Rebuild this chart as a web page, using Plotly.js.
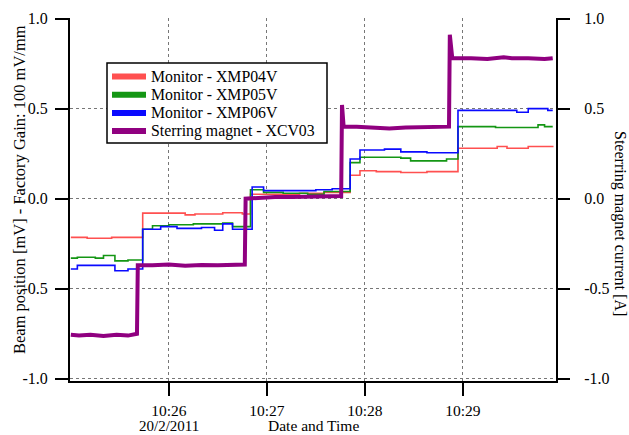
<!DOCTYPE html>
<html><head><meta charset="utf-8">
<script src="https://cdn.plot.ly/plotly-3.0.1.min.js"></script>
<style>body{margin:0;background:#fff}#c{width:629px;height:435px}</style>
</head><body><div id="c"></div>
<script>
const DAY = "2011-02-20 ";
const names = ["Monitor - XMP04V", "Monitor - XMP05V", "Monitor - XMP06V", "Sterring magnet - XCV03"];
const colors = ["#ff5050", "#149614", "#0a0aff", "#900080"];

const redT = ["10:25:00","10:25:10","10:25:25","10:25:44","10:26:10","10:26:16","10:26:33","10:26:45","10:26:50","10:27:20","10:27:35","10:27:51","10:27:57","10:28:07","10:28:22","10:28:38","10:28:57","10:29:21","10:29:27","10:29:40","10:29:55"];
const redV = [-0.215,-0.22,-0.215,-0.08,-0.09,-0.085,-0.078,-0.085,0.025,0.03,0.035,0.13,0.155,0.15,0.145,0.15,0.28,0.29,0.28,0.29,0.285];

const greenT = ["10:25:00","10:25:04","10:25:15","10:25:20","10:25:27","10:25:35","10:25:44","10:25:50","10:26:00","10:26:15","10:26:33","10:26:39","10:26:50","10:26:58","10:27:10","10:27:25","10:27:35","10:27:51","10:27:57","10:28:22","10:28:28","10:28:50","10:28:57","10:29:20","10:29:46","10:29:50","10:29:55"];
const greenV = [-0.33,-0.325,-0.33,-0.315,-0.345,-0.34,-0.17,-0.15,-0.145,-0.14,-0.135,-0.155,0.05,0.035,0.03,0.025,0.04,0.2,0.23,0.225,0.21,0.22,0.4,0.395,0.41,0.4,0.4];

const blueT = ["10:25:00","10:25:04","10:25:27","10:25:35","10:25:44","10:25:55","10:26:05","10:26:20","10:26:28","10:26:33","10:26:39","10:26:51","10:26:58","10:27:30","10:27:40","10:27:51","10:27:57","10:28:12","10:28:22","10:28:38","10:28:57","10:29:33","10:29:40","10:29:52","10:29:55"];
const blueV = [-0.39,-0.37,-0.4,-0.39,-0.17,-0.155,-0.165,-0.16,-0.175,-0.14,-0.17,0.065,0.045,0.05,0.055,0.22,0.27,0.275,0.26,0.255,0.49,0.48,0.5,0.49,0.49];

const magT = ["10:25:00","10:25:05","10:25:12","10:25:20","10:25:28","10:25:35","10:25:40.5","10:25:41","10:25:50","10:26:00","10:26:10","10:26:20","10:26:30","10:26:40","10:26:46.5","10:26:47","10:26:55","10:27:05","10:27:15","10:27:25","10:27:35","10:27:45.5","10:27:46","10:27:47","10:27:55","10:28:05","10:28:15","10:28:25","10:28:35","10:28:45","10:28:51.5","10:28:52","10:28:53.5","10:29:05","10:29:15","10:29:25","10:29:30","10:29:40","10:29:50","10:29:55"];
const magV = [-0.755,-0.76,-0.755,-0.762,-0.755,-0.76,-0.75,-0.37,-0.37,-0.365,-0.372,-0.368,-0.37,-0.365,-0.365,0.0,0.005,0.01,0.01,0.012,0.01,0.015,0.52,0.4,0.4,0.395,0.39,0.395,0.395,0.4,0.4,0.91,0.78,0.78,0.775,0.785,0.78,0.78,0.775,0.78];

const xTickVals = ["10:26:00","10:27:00","10:28:00","10:29:00"];
const xTickText = ["10:26","10:27","10:28","10:29"];
const dateLabel = "20/2/2011";
const yTicks = [-1,-0.5,0,0.5,1];
const yTickText = ["-1.0","-0.5","0.0","0.5","1.0"];
const xTitle = "Date and Time";
const yTitle = "Beam position [mV] - Factory Gain: 100 mV/mm";
const y2Title = "Steerring magnet current [A]";

const full = a => a.map(t => DAY + t);
const serif = "Liberation Serif, Times New Roman, serif";
const FS = 16;

// plot area in pixels
const L = 70, R = 556, T = 18, B = 381;
const px = v => (v - L) / (R - L);
const py = v => (B - v) / (B - T);

const series = [[redT,redV],[greenT,greenV],[blueT,blueV]];
const traces = [];
series.forEach((s,i)=>{
  traces.push({x: full(s[0]), y: s[1], type:"scatter", mode:"lines", line:{color:colors[i], width:1.6, shape:"hv"}, hoverinfo:"skip"});
});
traces.push({x: full(magT), y: magV, type:"scatter", mode:"lines", yaxis:"y2", line:{color:colors[3], width:4}, hoverinfo:"skip"});

const axCommon = {showline:true, linecolor:"#000", linewidth:2, ticks:"outside", tickcolor:"#000", tickwidth:2, zeroline:false, tickfont:{family:serif, size:FS, color:"#000"}};

// custom legend
const shapes = [{type:"rect", xref:"paper", yref:"paper", x0:px(107), x1:px(327), y0:py(143), y1:py(63), line:{color:"#000", width:1.5}, fillcolor:"#fff", layer:"above"}];
const annotations = [];
const rowsY = [76.5, 94.7, 112.9, 131.1];
names.forEach((n,i)=>{
  shapes.push({type:"line", xref:"paper", yref:"paper", x0:px(112), x1:px(146), y0:py(rowsY[i]), y1:py(rowsY[i]), line:{color:colors[i], width:6}, layer:"above"});
  annotations.push({text:n, xref:"paper", yref:"paper", x:px(150), y:py(rowsY[i]), xanchor:"left", yanchor:"middle", borderpad:0, showarrow:false, font:{family:serif, size:15.8, color:"#000"}});
});
annotations.push({text:dateLabel, xref:"x", yref:"paper", x:DAY+xTickVals[0], y:py(425.5), xanchor:"center", yanchor:"middle", borderpad:0, showarrow:false, font:{family:serif, size:15, color:"#000"}});
annotations.push({text:xTitle, xref:"paper", yref:"paper", x:px(313), y:py(425.5), xanchor:"center", yanchor:"middle", borderpad:0, showarrow:false, font:{family:serif, size:15.5, color:"#000"}});
annotations.push({text:yTitle, xref:"paper", yref:"paper", x:px(19), y:py(190), xanchor:"center", yanchor:"middle", textangle:-90, showarrow:false, font:{family:serif, size:16.5, color:"#000"}});
annotations.push({text:y2Title, xref:"paper", yref:"paper", x:px(620), y:py(223), xanchor:"center", yanchor:"middle", textangle:90, showarrow:false, font:{family:serif, size:16, color:"#000"}});

const layout = {
  width:629, height:435,
  margin:{l:L, r:629-R, t:T, b:435-B},
  paper_bgcolor:"#fff", plot_bgcolor:"#fff",
  font:{family:serif, size:FS, color:"#000"},
  showlegend:false,
  xaxis:Object.assign({}, axCommon, {type:"date", range:[DAY+"10:24:59.5", DAY+"10:29:57"], tickmode:"array", tickvals:full(xTickVals), ticktext:xTickText, ticklen:13, ticklabelstandoff:1, tickfont:{family:serif, size:15.5, color:"#000"}, showgrid:true, gridcolor:"#777", griddash:"dot", gridwidth:1}),
  yaxis:Object.assign({}, axCommon, {range:[-1.012, 1.003], tickmode:"array", tickvals:yTicks, ticktext:yTickText, ticklen:13, ticklabelstandoff:4, showgrid:true, gridcolor:"#777", griddash:"dot", gridwidth:1}),
  yaxis2:Object.assign({}, axCommon, {overlaying:"y", side:"right", range:[-1.012, 1.003], tickmode:"array", tickvals:yTicks, ticktext:yTickText, ticklen:12, ticklabelstandoff:11, showgrid:false}),
  shapes:shapes,
  annotations:annotations
};

Plotly.newPlot("c", traces, layout, {staticPlot:true, displayModeBar:false});
</script></body></html>
